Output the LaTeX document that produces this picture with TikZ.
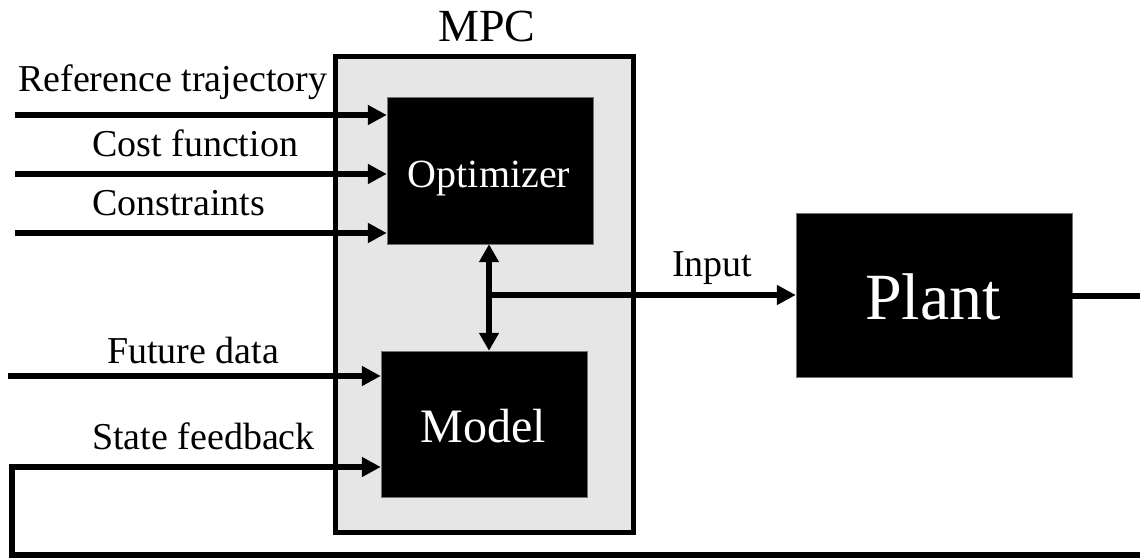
\documentclass[tikz,border=0pt]{standalone}
\usepackage{fontspec}
\setmainfont{Liberation Serif}
\usetikzlibrary{arrows.meta}
\definecolor{mpcgray}{HTML}{E6E6E6}
\begin{document}
\begin{tikzpicture}[x=1pt,y=-1pt,
  wire/.style={line width=5.5pt},
  arr/.style={wire,-{Triangle[length=19pt,width=19pt]}},
  dbl/.style={wire,{Triangle[length=18pt,width=19pt]}-{Triangle[length=18pt,width=19pt]}},
  blk/.style={fill=black,draw=black!55,line width=0.4pt,inner sep=0pt},
  lbl/.style={inner sep=0pt,font=\fontsize{38}{40}\selectfont},
  inlbl/.style={inner sep=0pt,text=white,anchor=base}]
  \useasboundingbox (0,0) rectangle (1140,559);

  % controller frame
  \node[draw=black,fill=mpcgray,line width=5pt,minimum width=298pt,minimum height=475pt,inner sep=0pt] (mpc) at (484,294.5) {};
  \node[inner sep=0pt,anchor=base,font=\fontsize{46}{48}\selectfont] (mpct) at (487,42) {MPC};

  % blocks
  \node[blk,minimum width=206pt,minimum height=147pt] (opt) at (490,170.5) {};
  \node[blk,minimum width=206pt,minimum height=146pt] (model) at (484,424) {};
  \node[blk,minimum width=276pt,minimum height=164pt] (plant) at (934,295) {};
  \node[inlbl,font=\fontsize{40}{42}\selectfont] (optt) at (489,187) {Optimizer};
  \node[inlbl,font=\fontsize{48}{50}\selectfont] (modelt) at (483,442) {Model};
  \node[inlbl,font=\fontsize{66}{68}\selectfont] (plantt) at (933,319) {Plant};

  % input labels
  \node[lbl,anchor=base west] (lref) at (18,92) {Reference trajectory};
  \node[lbl,anchor=base west] (lcost) at (92,157) {Cost function};
  \node[lbl,anchor=base west] (lcons) at (92,215) {Constraints};
  \node[lbl,anchor=base west] (lfut) at (107,363) {Future data};
  \node[lbl,anchor=base west] (lstate) at (92,449) {State feedback};
  \node[lbl,anchor=base west] (linput) at (672,276) {Input};

  % free ends of the input lines
  \coordinate (sref) at (15,115);
  \coordinate (scost) at (15,174);
  \coordinate (scons) at (15,233);
  \coordinate (sfut) at (8,376);
  \coordinate (sstate) at (12,467);
  \coordinate (fbr) at (1142.5,296);
  \coordinate (fbrb) at (1142.5,555);
  \coordinate (fblb) at (12,555);

  \draw[arr] (sref) -- (sref -| opt.west);
  \draw[arr] (scost) -- (scost -| opt.west);
  \draw[arr] (scons) -- (scons -| opt.west);
  \draw[arr] (sfut) -- (sfut -| model.west);

  % optimizer <-> model and control input to the plant
  \draw[dbl] (opt.south -| 489,0) -- (model.north -| 489,0);
  \coordinate (junc) at (489,295);
  \draw[arr] (junc) -- (plant.west);

  % state feedback loop
  \draw[arr,line join=miter] (plant.east |- fbr) -- (fbr) -- (fbrb) -- (fblb) -- (sstate) -- (sstate -| model.west);
\end{tikzpicture}
\end{document}
